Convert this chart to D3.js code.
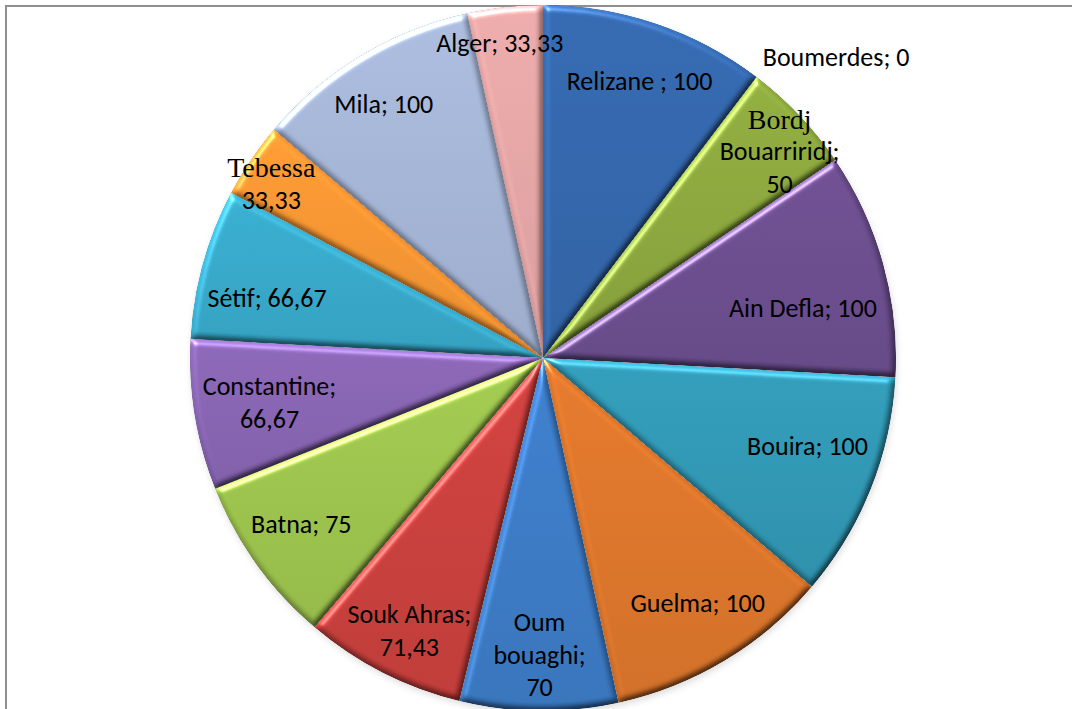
<!DOCTYPE html>
<html>
<head>
<meta charset="utf-8">
<script src="https://cdn.jsdelivr.net/npm/d3@7"></script>
<style>
  html, body { margin: 0; padding: 0; background: #ffffff; }
  svg { display: block; }
</style>
</head>
<body>
<svg id="chart" width="1072" height="709"></svg>
<script>
// Rate per wilaya, in drawing order (clockwise from 12 o'clock)
const wilayas = ["Relizane", "Boumerdes", "Bordj Bouarriridj", "Ain Defla", "Bouira", "Guelma",
                 "Oum bouaghi", "Souk Ahras", "Batna", "Constantine", "Sétif", "Tebessa", "Mila", "Alger"];
const rates = [100, 0, 50, 100, 100, 100, 70, 71.43, 75, 66.67, 66.67, 33.33, 100, 33.33];

// Data label text, split into lines; {v} is replaced by the formatted rate
const labelTemplates = [
  ["Relizane ; {v}"],
  ["Boumerdes; {v}"],
  ["Bordj", "Bouarriridj;", "{v}"],
  ["Ain Defla; {v}"],
  ["Bouira; {v}"],
  ["Guelma; {v}"],
  ["Oum", "bouaghi;", "{v}"],
  ["Souk Ahras;", "{v}"],
  ["Batna; {v}"],
  ["Constantine;", "{v}"],
  ["Sétif; {v}"],
  ["Tebessa", "{v}"],
  ["Mila; {v}"],
  ["Alger; {v}"]
];

const sliceColors = ["#3265aa", "#8aa63c", "#8aa63c", "#6a4c8c", "#2f96b2", "#da7429", "#3a79c3",
                     "#c73e3b", "#9bc24c", "#8663b0", "#36a7c7", "#f39431", "#a3b3d4", "#e2a4a3"];

// Label placement: fraction of the radius and angular nudge (degrees)
const labelRadius = [0.83, 1.19, 0.89, 0.75, 0.79, 0.82, 0.84, 0.86, 0.83, 0.785, 0.80, 0.915, 0.85, 0.90];
const labelNudge  = [0.6, 7.0, 2.3, 4.6, -3.3, -1.3, 0, -0.9, 1.3, 0.1, -3.2, -1.4, -1.0, -1.6];
const serifLines = new Set(["Bordj", "Tebessa"]);

const W = 1072, H = 709;
const cx = 543, cy = 358, R = 353;

const svg = d3.select("#chart");
const defs = svg.append("defs");

// Bevel lighting applied to each slice
const f = defs.append("filter").attr("id", "bevel")
  .attr("x", "-5%").attr("y", "-5%").attr("width", "110%").attr("height", "110%")
  .attr("color-interpolation-filters", "sRGB");
f.append("feGaussianBlur").attr("in", "SourceAlpha").attr("stdDeviation", 3).attr("result", "blur");
f.append("feDiffuseLighting").attr("in", "blur").attr("surfaceScale", 4)
  .attr("diffuseConstant", 1).attr("lighting-color", "#ffffff").attr("result", "light")
  .append("feDistantLight").attr("azimuth", 240).attr("elevation", 45);
f.append("feComposite").attr("in", "SourceGraphic").attr("in2", "light")
  .attr("operator", "arithmetic").attr("k1", 0.85).attr("k2", 0.4).attr("k3", 0).attr("k4", 0)
  .attr("result", "lit");
f.append("feSpecularLighting").attr("in", "blur").attr("surfaceScale", 4)
  .attr("specularConstant", 0.45).attr("specularExponent", 30)
  .attr("lighting-color", "#ffffff").attr("result", "spec")
  .append("feDistantLight").attr("azimuth", 240).attr("elevation", 35);
f.append("feComposite").attr("in", "spec").attr("in2", "SourceAlpha").attr("operator", "in").attr("result", "specIn");
f.append("feComposite").attr("in", "lit").attr("in2", "specIn")
  .attr("operator", "arithmetic").attr("k1", 0).attr("k2", 1).attr("k3", 1).attr("k4", 0)
  .attr("result", "shaded");
f.append("feComposite").attr("in", "shaded").attr("in2", "SourceAlpha").attr("operator", "in");

// Soft shadow under the pie
const sh = defs.append("filter").attr("id", "shadow")
  .attr("x", "-10%").attr("y", "-10%").attr("width", "120%").attr("height", "120%");
sh.append("feGaussianBlur").attr("stdDeviation", 3);

// Per-slice top-to-bottom shading
sliceColors.forEach((c, i) => {
  const lg = defs.append("linearGradient").attr("id", `fill-${i}`)
    .attr("x1", 0).attr("y1", 0).attr("x2", 0).attr("y2", 1);
  lg.append("stop").attr("offset", "0%").attr("stop-color", d3.color(c).brighter(0.12).formatHex());
  lg.append("stop").attr("offset", "100%").attr("stop-color", d3.color(c).darker(0.15).formatHex());
});

// Frame around the chart area
svg.append("rect")
  .attr("x", 6).attr("y", 6).attr("width", W + 20).attr("height", H + 20)
  .attr("fill", "none").attr("stroke", "#8e8e8e").attr("stroke-width", 2);

const fmtVal = v => (Number.isInteger(v) ? String(v) : d3.format(".2f")(v).replace(".", ","));

const data = wilayas.map((name, i) => ({ name, value: rates[i], i }));
const pie = d3.pie().value(d => d.value).sort(null).startAngle(0).endAngle(2 * Math.PI);
const arcs = pie(data);
const arc = d3.arc().innerRadius(0).outerRadius(R);

const g = svg.append("g").attr("transform", `translate(${cx},${cy})`);

g.append("circle").attr("cx", 1).attr("cy", 3).attr("r", R)
  .attr("fill", "#a0a0a0").attr("opacity", 0.35).attr("filter", "url(#shadow)");

g.selectAll("path.slice")
  .data(arcs.filter(a => a.endAngle > a.startAngle))
  .join("path")
  .attr("class", "slice")
  .attr("d", arc)
  .attr("fill", d => `url(#fill-${d.data.i})`)
  .attr("filter", "url(#bevel)");

// Data labels
const lineH = 32.5;
const labels = g.selectAll("g.label")
  .data(arcs)
  .join("g")
  .attr("class", "label")
  .attr("transform", d => {
    const i = d.data.i;
    const mid = (d.startAngle + d.endAngle) / 2 + labelNudge[i] * Math.PI / 180;
    const r = R * labelRadius[i];
    return `translate(${r * Math.sin(mid)},${-r * Math.cos(mid)})`;
  });

labels.each(function (d) {
  const lines = labelTemplates[d.data.i].map(t => t.replace("{v}", fmtVal(d.data.value)));
  const n = lines.length;
  const sel = d3.select(this);
  lines.forEach((ln, k) => {
    const serif = serifLines.has(ln);
    sel.append("text")
      .attr("x", 0)
      .attr("y", (k - (n - 1) / 2) * lineH)
      .attr("dy", "0.35em")
      .attr("text-anchor", "middle")
      .attr("font-family", serif ? "'Liberation Serif', 'DejaVu Serif', serif" : "Carlito, Lato, 'Liberation Sans', sans-serif")
      .attr("font-size", serif ? 28 : 26)
      .attr("fill", "#000")
      .text(ln);
  });
});
</script>
</body>
</html>
